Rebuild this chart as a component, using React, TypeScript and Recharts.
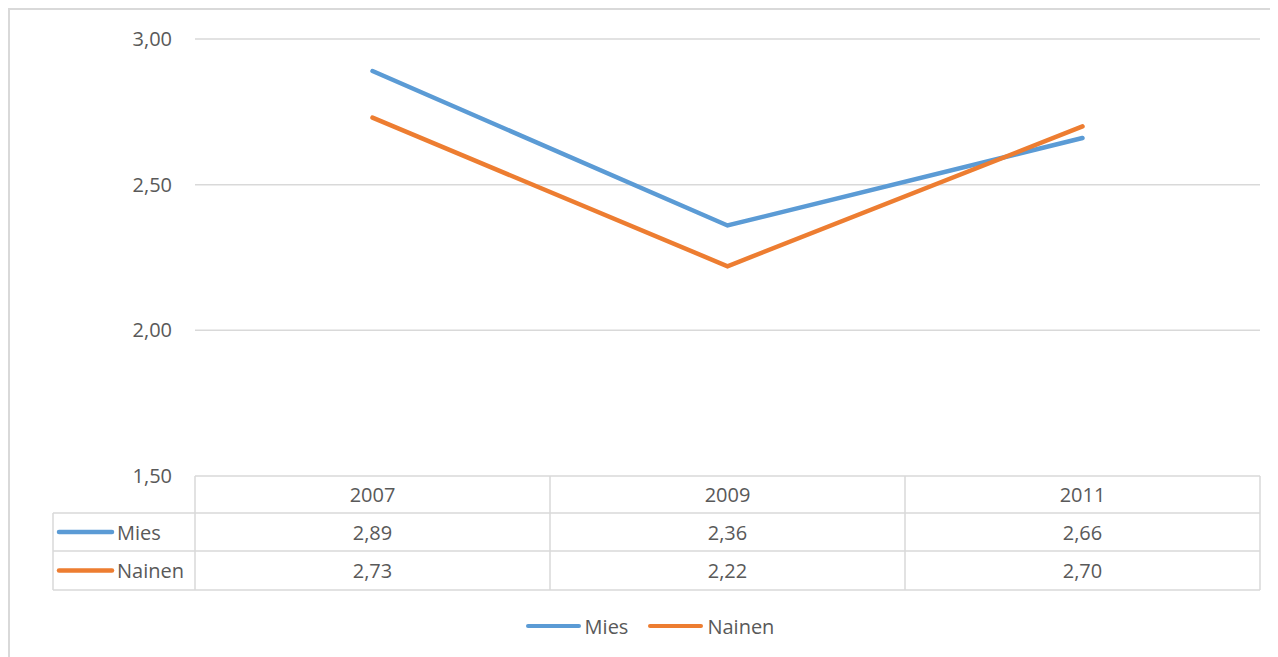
import { LineChart, Line, XAxis, YAxis, CartesianGrid, Legend } from "recharts"

const years = ["2007", "2009", "2011"]
const mies = [2.89, 2.36, 2.66]
const nainen = [2.73, 2.22, 2.7]
const yTicks = [1.5, 2, 2.5, 3]

const series = [
  { key: "mies", name: "Mies", color: "#5B9BD5", values: mies },
  { key: "nainen", name: "Nainen", color: "#ED7D31", values: nainen }
]

const data = years.map((year, i) => ({ year, mies: mies[i], nainen: nainen[i] }))

const FONT = "'Open Sans', sans-serif"
const TEXT = "#595959"
const GRID = "#d9d9d9"
const FS = 20

const fmt = (v: number) => v.toFixed(2).replace(".", ",")

// row boundaries of the data table under the plot
const rows = [0, 37, 75, 114]

const TableTick = (props: any) => {
  const { x, y, index, payload, width } = props
  const band = (width || 1065) / years.length
  const left = x - band / 2
  const right = x + band / 2
  const mid = (r: number) => y + (rows[r] + rows[r + 1]) / 2
  const leftCol = left - 142

  return (
    <g>
      <line x1={left} x2={left} y1={y} y2={y + rows[3]} stroke={GRID} strokeWidth={1.5} />
      {index === years.length - 1 && (
        <line x1={right} x2={right} y1={y} y2={y + rows[3]} stroke={GRID} strokeWidth={1.5} />
      )}
      {rows.slice(1).map((r) => (
        <line key={r} x1={left} x2={right} y1={y + r} y2={y + r} stroke={GRID} strokeWidth={1.5} />
      ))}
      <text x={x} y={mid(0)} textAnchor="middle" dominantBaseline="central" fill={TEXT} fontSize={FS} fontFamily={FONT}>
        {payload.value}
      </text>
      {series.map((s, si) => (
        <text key={s.key} x={x} y={mid(si + 1)} textAnchor="middle" dominantBaseline="central" fill={TEXT} fontSize={FS} fontFamily={FONT}>
          {fmt(s.values[index])}
        </text>
      ))}
      {index === 0 && (
        <g>
          <line x1={leftCol} x2={leftCol} y1={y + rows[1]} y2={y + rows[3]} stroke={GRID} strokeWidth={1.5} />
          {rows.slice(1).map((r) => (
            <line key={r} x1={leftCol} x2={left} y1={y + r} y2={y + r} stroke={GRID} strokeWidth={1.5} />
          ))}
          {series.map((s, si) => (
            <g key={s.key}>
              <line x1={leftCol + 6} x2={leftCol + 59} y1={mid(si + 1)} y2={mid(si + 1)} stroke={s.color} strokeWidth={4.5} strokeLinecap="round" />
              <text x={leftCol + 64} y={mid(si + 1)} dominantBaseline="central" fill={TEXT} fontSize={FS} fontFamily={FONT}>
                {s.name}
              </text>
            </g>
          ))}
        </g>
      )}
    </g>
  )
}

const LegendContent = () => (
  <div style={{ display: "flex", justifyContent: "center", alignItems: "center", height: 30, gap: 20, fontFamily: FONT, fontSize: FS, color: TEXT }}>
    {series.map((s) => (
      <div key={s.key} style={{ display: "flex", alignItems: "center" }}>
        <span style={{ display: "inline-block", width: 55, height: 4.5, borderRadius: 3, background: s.color, marginRight: 4 }} />
        <span>{s.name}</span>
      </div>
    ))}
  </div>
)

export default function App() {
  return (
    <div style={{ width: 1290, height: 662, border: `2px solid ${GRID}`, background: "#fff", boxSizing: "border-box" }}>
      <style>{`body{overflow:hidden}`}</style>
      <LineChart width={1280} height={660} data={data} margin={{ top: 29, right: 30, bottom: 29, left: 0 }}>
        <CartesianGrid horizontal vertical={false} stroke={GRID} strokeWidth={1.5} />
        <XAxis
          dataKey="year"
          scale="band"
          height={135}
          axisLine={false}
          tickLine={false}
          tickSize={0}
          tickMargin={0}
          interval={0}
          tick={<TableTick />}
        />
        <YAxis
          width={185}
          domain={[1.5, 3]}
          ticks={yTicks}
          tickFormatter={fmt}
          axisLine={false}
          tickLine={false}
          tickSize={0}
          tickMargin={23}
          tick={{ fill: TEXT, fontSize: FS, fontFamily: FONT }}
        />
        <Legend verticalAlign="bottom" height={30} wrapperStyle={{ left: 0, width: 1280 }} content={<LegendContent />} />
        {series.map((s) => (
          <Line
            key={s.key}
            dataKey={s.key}
            name={s.name}
            stroke={s.color}
            strokeWidth={4.5}
            strokeLinecap="round"
            dot={false}
            activeDot={false}
            isAnimationActive={false}
          />
        ))}
      </LineChart>
    </div>
  )
}
